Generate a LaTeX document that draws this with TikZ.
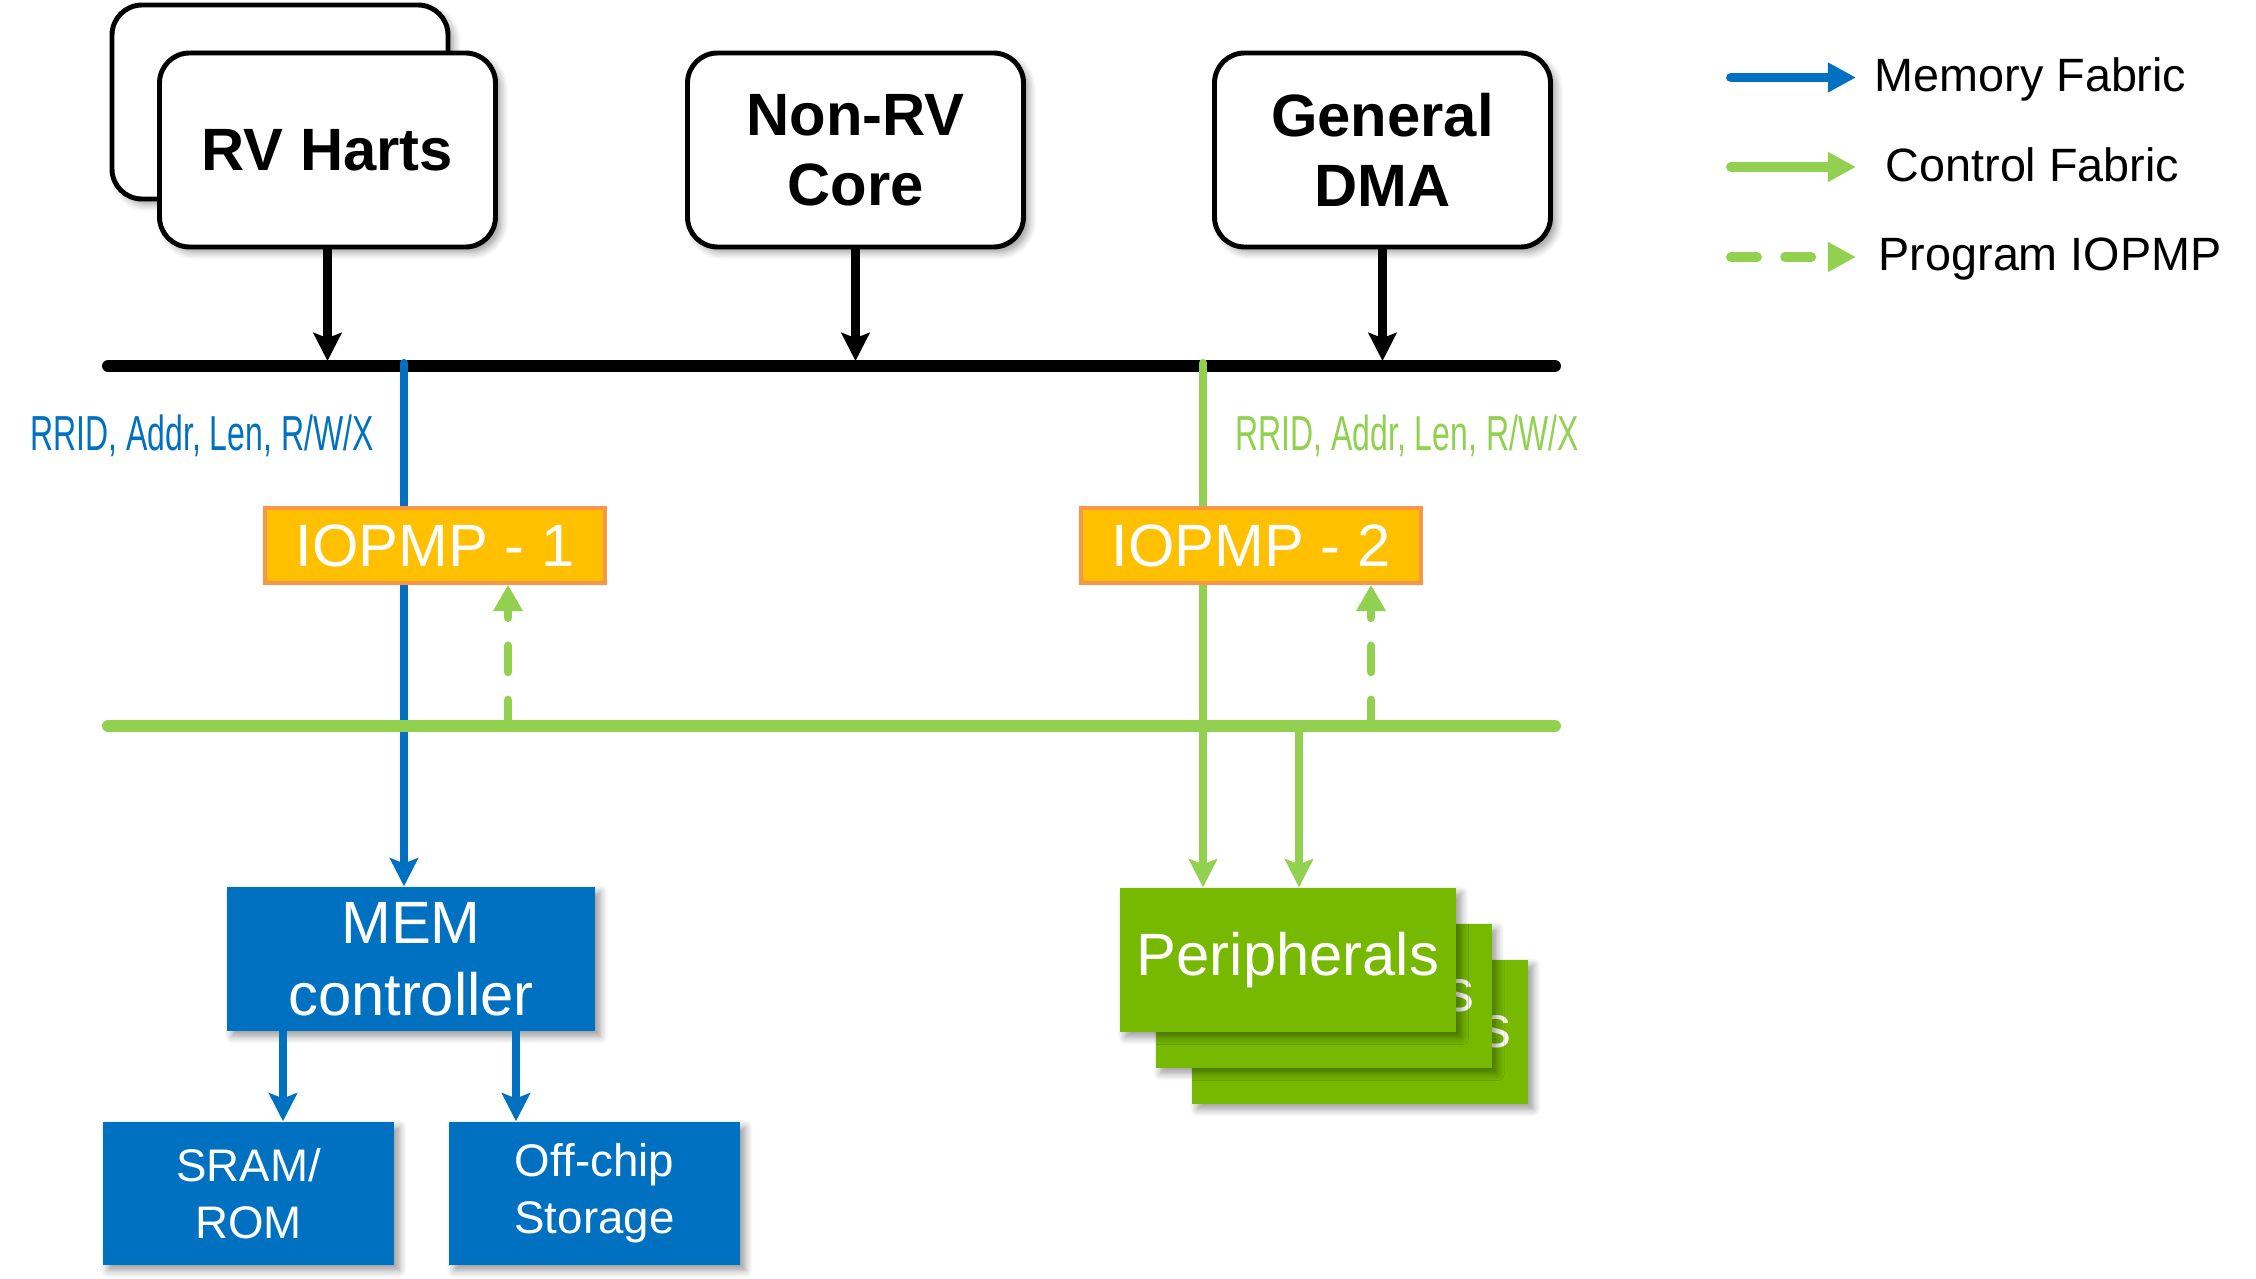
\documentclass[tikz,border=0pt]{standalone}
\usepackage{fontspec}
\setmainfont{Liberation Sans}
\usetikzlibrary{arrows.meta,shadows.blur}
\definecolor{memblue}{HTML}{0070C0}
\definecolor{ctrlgreen}{HTML}{92D050}
\definecolor{perigreen}{HTML}{76B900}
\definecolor{pmpfill}{HTML}{FFC000}
\definecolor{pmpedge}{HTML}{F79646}
\begin{document}
\begin{tikzpicture}[
        softshadow/.style={blur shadow={shadow xshift=1.5pt, shadow yshift=-1.5pt, shadow blur steps=6, shadow opacity=40}},
        master/.style={draw=black, line width=1.4pt, fill=white, rounded corners=0.3cm,
            minimum width=3.36cm, minimum height=1.94cm, inner sep=0pt, align=center,
            font=\fontsize{17}{20}\selectfont\bfseries, softshadow},
        iopmp/.style={draw=pmpedge, line width=1pt, fill=pmpfill, text=white,
            minimum width=3.4cm, minimum height=0.75cm, inner sep=0pt,
            font=\fontsize{17}{20}\selectfont},
        memblock/.style={fill=memblue, text=white, inner sep=0pt, align=center, softshadow},
        periph/.style={fill=perigreen, text=white, minimum width=3.36cm, minimum height=1.44cm,
            inner sep=0pt, font=\fontsize{17}{20}\selectfont, softshadow},
        bus/.style={line width=3.4pt, line cap=round},
        link/.style={line width=2.3pt, -{Stealth[length=8pt,width=8pt,inset=1.5pt]}},
        prog/.style={ctrlgreen, line width=2.5pt, line cap=round, dash pattern=on 7.4pt off 8pt,
            -{Triangle[length=7.5pt,width=8pt]}},
        legline/.style={line width=2.8pt, line cap=round, -{Triangle[length=8pt,width=8pt]}},
        sig/.style={anchor=base, inner sep=0pt, font=\fontsize{14}{16}\selectfont},
        legend/.style={anchor=base west, inner sep=0pt, font=\fontsize{13.3}{15}\selectfont}
    ]
    \useasboundingbox (0,0) rectangle (22.56,-12.79);

    \coordinate (busW) at (1.08,-3.66);
    \coordinate (busE) at (15.55,-3.66);
    \coordinate (bustop) at (0,-3.61);
    \coordinate (ctlW) at (1.08,-7.26);
    \coordinate (ctlE) at (15.55,-7.26);

    \node[master] (rvback) at (2.80,-1.02) {};
    \node[master] (rv) at (3.275,-1.50) {RV Harts};
    \node[master] (nonrv) at (8.555,-1.50) {Non-RV\\Core};
    \node[master] (dma) at (13.825,-1.50) {General\\DMA};

    \node[memblock, minimum width=3.68cm, minimum height=1.44cm,
        font=\fontsize{17}{20.5}\selectfont] (mem) at (4.11,-9.59) {MEM\\controller};
    \node[memblock, minimum width=2.91cm, minimum height=1.43cm,
        font=\fontsize{13}{16.3}\selectfont] (sram) at (2.485,-11.935) {SRAM/\\ROM};
    \node[memblock, minimum width=2.91cm, minimum height=1.43cm,
        font=\fontsize{13}{16.3}\selectfont] (offchip) at (5.945,-11.935) {Off-chip\\Storage};

    \node[periph] (per3) at (13.60,-10.32) {Peripherals};
    \node[periph] (per2) at (13.235,-9.96) {Peripherals};
    \node[periph] (per1) at (12.88,-9.60) {Peripherals};

    % system bus
    \draw[bus] (busW) -- (busE);
    \foreach \m in {rv,nonrv,dma}
        \draw[link] (\m.south) -- (\m.south |- bustop);

    \coordinate (memtap) at (4.04,-3.63);
    \coordinate (ctltap) at (12.03,-3.63);
    \draw[link, memblue, line cap=round] (memtap) -- (memtap |- mem.north);
    \draw[link, ctrlgreen, line cap=round] (ctltap) -- (ctltap |- per1.north);

    % control bus
    \draw[bus, ctrlgreen] (ctlW) -- (ctlE);
    \coordinate (ctltap2) at (12.99,-7.26);
    \draw[link, ctrlgreen] (ctltap2) -- (ctltap2 |- per1.north);

    \coordinate (m1) at (2.83,-10.31);
    \coordinate (m2) at (5.16,-10.31);
    \draw[link, memblue] (m1) -- (m1 |- sram.north);
    \draw[link, memblue] (m2) -- (m2 |- offchip.north);

    \node[iopmp] (pmp1) at (4.35,-5.455) {IOPMP - 1};
    \node[iopmp] (pmp2) at (12.51,-5.455) {IOPMP - 2};

    \coordinate (p1) at (5.08,-7.26);
    \coordinate (p2) at (13.71,-7.26);
    \draw[prog] (p1) -- (p1 |- pmp1.south);
    \draw[prog] (p2) -- (p2 |- pmp2.south);

    \node[sig, text=memblue] (memsig) at (2.02,-4.51) {\scalebox{0.65}[1]{RRID, Addr, Len, R/W/X}};
    \node[sig, text=ctrlgreen] (ctlsig) at (14.07,-4.51) {\scalebox{0.65}[1]{RRID, Addr, Len, R/W/X}};

    % legend
    \coordinate (lg1) at (17.31,-0.775);
    \coordinate (lg1e) at (18.56,-0.775);
    \coordinate (lg2) at (17.31,-1.67);
    \coordinate (lg2e) at (18.56,-1.67);
    \coordinate (lg3) at (17.31,-2.57);
    \coordinate (lg3e) at (18.56,-2.57);
    \draw[legline, memblue] (lg1) -- (lg1e);
    \draw[legline, ctrlgreen] (lg2) -- (lg2e);
    \draw[legline, ctrlgreen, dash pattern=on 7.4pt off 8pt] (lg3) -- (lg3e);
    \node[legend] (lgmem) at (18.74,-0.92) {Memory Fabric};
    \node[legend] (lgctl) at (18.85,-1.82) {Control Fabric};
    \node[legend] (lgprog) at (18.78,-2.71) {Program IOPMP};
\end{tikzpicture}
\end{document}
